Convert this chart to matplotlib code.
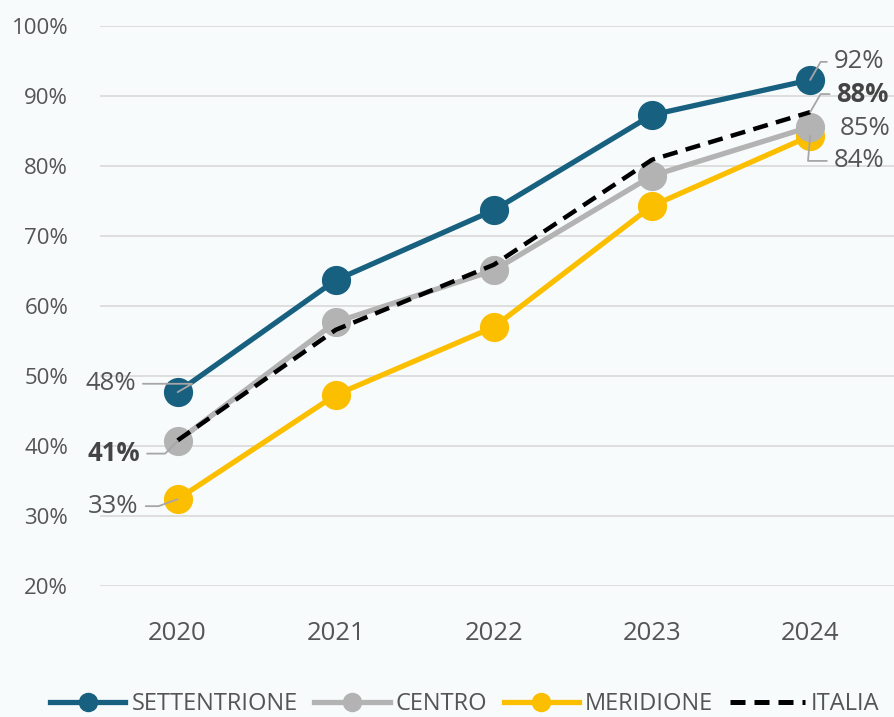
import matplotlib
matplotlib.use("Agg")
import matplotlib.pyplot as plt
from matplotlib.lines import Line2D

years = ["2020", "2021", "2022", "2023", "2024"]
settentrione = [47.7, 63.7, 73.7, 87.3, 92.3]
centro = [40.7, 57.7, 65.1, 78.6, 85.6]
meridione = [32.4, 47.3, 57.0, 74.3, 84.3]
italia = [40.8, 56.6, 65.9, 80.9, 87.7]
yticks = [20, 30, 40, 50, 60, 70, 80, 90, 100]

BLUE = "#17607f"
GREY = "#b3b3b3"
YELLOW = "#fcbf00"
TXT = "#555555"
BG = "#f8fbfc"

plt.rcParams['font.family'] = ['Open Sans', 'DejaVu Sans']

fig = plt.figure(figsize=(8.94, 7.17), dpi=100, facecolor=BG)
ax = fig.add_axes([0.112, 0.1827, 0.888, 0.781], facecolor=BG)
x = list(range(len(years)))

ax.plot(x, meridione, color=YELLOW, lw=3.8, marker='o', ms=20, zorder=3)
ax.plot(x, centro, color=GREY, lw=3.8, marker='o', ms=20, zorder=4)
ax.plot(x, settentrione, color=BLUE, lw=3.8, marker='o', ms=20, zorder=5)
ax.plot(x, italia, color='black', lw=3.2, ls=(0, (3.4, 1.9)), zorder=6)

ax.set_xlim(-0.49, 4.53)
ax.set_ylim(20, 100)
ax.set_yticks(yticks)
ax.set_yticklabels([f"{v}%" for v in yticks])
ax.set_xticks(x)
ax.set_xticklabels(years)
ax.grid(axis='y', color='#d9d9d9', lw=1.2)
ax.set_axisbelow(True)
for s in ax.spines.values():
    s.set_visible(False)
ax.tick_params(axis='y', length=0, pad=23, labelsize=16, labelcolor=TXT)
ax.tick_params(axis='x', length=0, pad=25, labelsize=18.5, labelcolor=TXT)

def ann(txt, xi, yv, tx, ty, ha, bold=False, angB=60):
    ax.annotate(txt, xy=(xi, yv), xytext=(tx, ty), textcoords='offset points',
                ha=ha, va='center', fontsize=18.5, color='#444444' if bold else TXT,
                fontweight='bold' if bold else 'normal',
                arrowprops=dict(arrowstyle='-', color='#a6a6a6', lw=1.3,
                                connectionstyle=f'angle,angleA=0,angleB={angB},rad=0',
                                shrinkA=3, shrinkB=0), zorder=10)

# left labels
ann("48%", 0, settentrione[0], -30, 6, 'right', angB=30)
ann("41%", 0, centro[0], -27, -9, 'right', bold=True, angB=45)
ann("33%", 0, meridione[0], -28, -5, 'right', angB=20)
# right labels
ann("92%", 4, settentrione[4], 17, 13, 'left')
ann("88%", 4, italia[4], 19, 13, 'left', bold=True)
ax.text(4.185, 85.3, "85%", fontsize=18.5, color=TXT, ha='left', va='center', zorder=10)
ann("84%", 4, meridione[4], 17, -18, 'left', angB=85)

handles = [
    Line2D([], [], color=BLUE, lw=3.8, marker='o', ms=13),
    Line2D([], [], color=GREY, lw=3.8, marker='o', ms=13),
    Line2D([], [], color=YELLOW, lw=3.8, marker='o', ms=13),
    Line2D([], [], color='black', lw=3.6, ls=(0, (3.0, 1.8))),
]
fig.legend(handles, ["SETTENTRIONE", "CENTRO", "MERIDIONE", "ITALIA"],
           loc='center', bbox_to_anchor=(0.52, 0.018), ncol=4, frameon=False,
           fontsize=17, labelcolor=TXT, handlelength=3.2, handletextpad=0.25,
           columnspacing=0.7)

fig.savefig("out.png", dpi=100, facecolor=BG)
